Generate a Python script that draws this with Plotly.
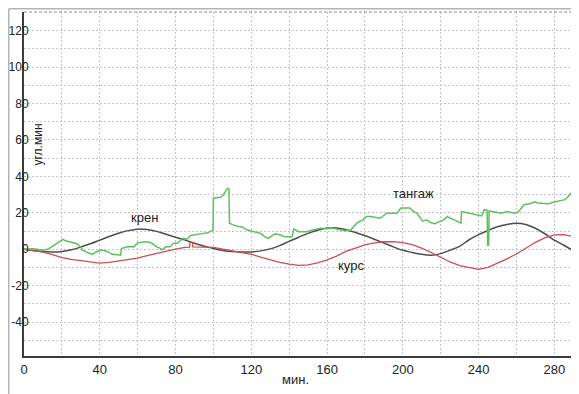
import plotly.graph_objects as go

# ---------------- data ----------------
kren_t = [0, 5, 10, 15, 20, 25, 30, 35, 40, 45, 50, 55, 60, 65, 70, 75, 80, 85, 90, 95,
          100, 105, 110, 115, 120, 125, 130, 135, 140, 145, 150, 155, 160, 165, 170, 175,
          180, 185, 190, 195, 200, 205, 210, 215, 220, 225, 230, 235, 240, 245, 250, 255,
          260, 265, 270, 275, 280, 285, 290, 292.5]
kren_v = [0, -0.7, -1.3, -1.5, -1.2, -0.3, 1.2, 3, 5, 7, 8.8, 10.2, 11, 10.8, 9.8, 8.2,
          6.6, 5, 3.3, 1.8, 0.4, -0.7, -1.3, -1.5, -1.5, -0.9, 0.2, 2, 4.3, 6.6, 8.7, 10.4,
          11.6, 11.7, 10.7, 9.2, 7.5, 5.5, 3.4, 1.3, -0.6, -1.8, -2.8, -3.3, -2.4, -0.5,
          1.6, 5.2, 8, 10.3, 12.3, 13.6, 14.3, 13.6, 11.5, 8.5, 5, 2.2, -0.8, -2.5]

kurs_t = [0, 5, 10, 15, 20, 25, 30, 35, 40, 45, 50, 55, 60, 65, 70, 75, 80, 85, 87.5, 87.6,
          89, 89.1, 95, 100, 105, 110, 115, 120, 125, 130, 135, 140, 145, 150, 155, 160,
          165, 170, 175, 180, 185, 190, 195, 200, 205, 210, 215, 220, 225, 230, 235, 240,
          245, 250, 255, 260, 265, 270, 275, 280, 285, 290, 292.5]
kurs_v = [0, -0.7, -1.6, -3, -4.6, -5.6, -6.4, -7.1, -7.6, -7.2, -6.5, -5.7, -4.9, -3.5,
          -2.2, -1, 0, 1, 1.2, 3.8, 3.8, 1.3, 1.2, 1, 0, -0.9, -1.5, -2.8, -4.3, -5.8, -7.2,
          -8.2, -8.9, -8.6, -7.5, -5.8, -3.8, -1.2, 0.8, 2.4, 3.5, 4.1, 4.2, 3.6, 2.5, 0.6,
          -1.8, -4.4, -7, -9, -10.2, -11, -10, -7.8, -5.3, -2.6, 0.5, 3.8, 6.2, 7.9, 8,
          7, 6.4]

tang_t = [0, 5, 10, 13, 16, 19, 20.5, 22, 24, 26, 28, 30, 31, 33, 36, 38, 41, 44, 46.6, 49,
          51, 51.5, 55, 58, 60, 63, 66, 68, 70, 72, 73, 75, 77, 79, 81, 84, 86, 88, 89.5,
          92, 95, 97, 98.5, 99.8, 100, 102, 103.7, 105, 106.5, 107.5, 108.2, 108.5, 110,
          113, 115, 118, 120, 123, 125, 127, 129, 131, 132.6, 135.5, 137, 139.7, 141.6,
          142.4, 145, 147, 149.5, 152, 154, 156.6, 159, 162.4, 165.4, 168, 170, 172.5, 174,
          175.7, 178.7, 181, 183, 186, 188, 191.5, 194, 197, 199, 203.7, 206, 207.4, 210.4,
          212.7, 215, 217, 219, 221.5, 223.6, 225, 227.5, 229, 230.7, 231, 234.5, 237.6,
          240, 241.6, 243, 244.5, 244.8, 245.3, 245.6, 248, 252, 255, 258.7, 261, 262.5,
          264, 267, 270, 271, 274, 277, 280, 283, 285.7, 287, 289, 291, 292.5]
tang_v = [0, 0.3, -0.5, 0.2, 2.2, 4.5, 5.4, 4.6, 4, 3.5, 3, 1, -0.5, -1.5, -2.8, -1.5, -0.5,
          -1.2, -2.8, -3, -3.3, 0.4, 1.5, 1.3, 3.5, 4, 4, 3, 1.3, 0.5, -0.3, 1.3, 1.3, 3.3,
          3.3, 6, 5.5, 7.5, 7.8, 8.5, 8.7, 9, 9.6, 10.5, 28, 28.3, 28.5, 29.5, 31.9, 33.5,
          33, 14.3, 13.5, 12.5, 12.4, 10.5, 10, 9, 8.7, 6.9, 6, 7.5, 8.5, 7.8, 7, 6.9, 6.9,
          11.2, 9.6, 9.6, 9.6, 10.5, 10.8, 11.5, 11.2, 11.8, 11, 10.5, 10.2, 10.5, 12.5,
          14.3, 16, 18, 18, 17.5, 17, 19.8, 19.8, 19.8, 22.6, 22.6, 20.5, 19.8, 15.5, 16,
          14.5, 14, 15, 16, 18, 17, 16, 15.2, 14.3, 20.7, 19.8, 18.9, 18.5, 18.3, 21.7,
          21.5, 2.2, 2.2, 21, 20.5, 19.8, 20.7, 19.8, 20.5, 22.6, 24.4, 25, 26, 25.4, 25,
          25, 25.9, 26.5, 27.2, 28.5, 31, 31.2, 30]

x_grid_vals = [0, 20, 40, 60, 80, 100, 120, 140, 160, 180, 200, 220, 240, 260, 280]
x_tick_text = ["0", "", "40", "", "80", "", "120", "", "160", "", "200", "", "240", "", "280"]
y_grid_vals = [-50, -40, -30, -20, -10, 0, 10, 20, 30, 40, 50, 60, 70, 80, 90, 100, 110, 120, 130]
y_tick_text = ["", "-40", "", "-20", "", "0", "", "20", "", "40", "", "60", "", "80", "",
               "100", "", "120", ""]

series_labels = ["крен", "курс", "тангаж"]
label_pos_t = [63.5, 172.5, 205.5]
label_pos_v = [17.5, -9, 30.5]

x_title = "мин."
y_title = "угл.мин"

FONT = "Liberation Sans, Arial, sans-serif"

# ---------------- figure ----------------
fig = go.Figure()
fig.add_trace(go.Scatter(x=kren_t, y=kren_v, mode="lines",
                         line=dict(color="#4d4d4d", width=1.5, shape="spline"),
                         name=series_labels[0]))
fig.add_trace(go.Scatter(x=kurs_t, y=kurs_v, mode="lines",
                         line=dict(color="#cc4f4f", width=1.3),
                         name=series_labels[1]))
fig.add_trace(go.Scatter(x=tang_t, y=tang_v, mode="lines",
                         line=dict(color="#5cc05c", width=1.5),
                         name=series_labels[2]))

for txt, tx, ty in zip(series_labels, label_pos_t, label_pos_v):
    fig.add_annotation(x=tx, y=ty, xref="x", yref="y", text=txt, showarrow=False,
                       xanchor="center", yanchor="middle",
                       font=dict(size=13, color="#222222", family=FONT))

fig.add_annotation(x=(29 - 16) / 554, y=(348 - 136.5) / 344, xref="paper", yref="paper",
                   text=y_title, textangle=-90, xanchor="center", yanchor="middle",
                   showarrow=False, font=dict(size=12, color="#222222", family=FONT))
fig.add_annotation(x=(287 - 16) / 554, y=(348 - 372) / 344, xref="paper", yref="paper",
                   text=x_title, xanchor="center", yanchor="middle",
                   showarrow=False, font=dict(size=13, color="#222222", family=FONT))

# frame lines (figure is shifted 8px by the page body margin)
fx0 = (0.75 - 16) / 554
fy1 = (348 - 0.75) / 344
fig.add_shape(type="line", xref="paper", yref="paper", x0=fx0, x1=fx0, y0=-0.15, y1=fy1,
              line=dict(color="#b4b4b4", width=1.5))
fig.add_shape(type="line", xref="paper", yref="paper", x0=fx0, x1=1.0, y0=fy1, y1=fy1,
              line=dict(color="#b4b4b4", width=1.5))
fig.add_shape(type="line", xref="paper", yref="paper", x0=0, x1=1, y0=1, y1=1,
              line=dict(color="#8a8a8a", width=1, dash="3px,2px"))
fig.add_shape(type="line", xref="paper", yref="paper", x0=1, x1=1, y0=0, y1=fy1,
              line=dict(color="#9a9a9a", width=1.5))

fig.update_layout(
    width=571, height=386, autosize=False,
    margin=dict(l=16, r=1, t=4, b=38),
    paper_bgcolor="white", plot_bgcolor="white",
    showlegend=False,
    font=dict(family=FONT, size=13, color="#222222"),
    xaxis=dict(range=[0, 292.5], tickvals=x_grid_vals, ticktext=x_tick_text,
               showgrid=True, gridcolor="#c4c4c4", griddash="2px,2px", gridwidth=1,
               zeroline=False, showline=True, linecolor="#3c3c3c", linewidth=2,
               ticks="", tickfont=dict(size=13), automargin=False),
    yaxis=dict(range=[-58.6, 130.2], tickvals=y_grid_vals, ticktext=y_tick_text,
               showgrid=True, gridcolor="#c4c4c4", griddash="2px,2px", gridwidth=1,
               zeroline=False, showline=True, linecolor="#3c3c3c", linewidth=2,
               ticks="", ticklen=0, ticklabelstandoff=-9,
               tickfont=dict(size=12), automargin=False),
)

fig.write_html("out.html")
